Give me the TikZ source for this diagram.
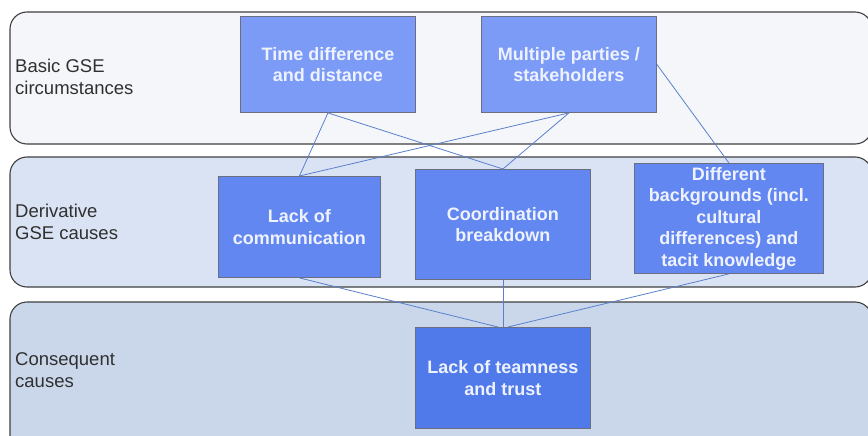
\documentclass[tikz,border=0pt]{standalone}
\usepackage{fontspec}
\setmainfont{Liberation Sans}
\begin{document}
\begin{tikzpicture}[x=1pt,y=-1pt,
  band/.style={draw=black!75,line width=1.1pt,rounded corners=17pt},
  cbox/.style={draw=boxline,line width=0.9pt,text=boxtext,font=\fontsize{18}{21.5}\selectfont\bfseries,align=center,inner sep=0pt,anchor=north west},
  lbl/.style={text=labeltext,font=\fontsize{18.5}{22}\selectfont,align=left,anchor=west,inner sep=0pt},
  link/.style={draw=linkblue,line width=0.8pt}]
\definecolor{bandA}{HTML}{F5F6FA}
\definecolor{bandB}{HTML}{DAE3F3}
\definecolor{bandC}{HTML}{CAD7EB}
\definecolor{boxA}{HTML}{7C9BF7}
\definecolor{boxB}{HTML}{6387F0}
\definecolor{boxC}{HTML}{5079E9}
\definecolor{boxline}{HTML}{6A6E80}
\definecolor{boxtext}{HTML}{EEF2FF}
\definecolor{labeltext}{HTML}{303030}
\definecolor{linkblue}{HTML}{5A80CC}
\useasboundingbox (0,0) rectangle (868,436);
\clip (0,0) rectangle (868,436);
\fill[white] (0,0) rectangle (868,436);
% bands
\path[band,fill=bandA] (10,12) rectangle (872,144);
\path[band,fill=bandB] (10,157) rectangle (872,287);
\path[band,fill=bandC] (10,302) rectangle (872,460);
% labels
\node[lbl] (l1) at (15,77) {Basic GSE\\circumstances};
\node[lbl] (l2) at (15,222) {Derivative\\GSE causes};
\node[lbl] (l3) at (15,370) {Consequent\\causes};
% boxes
\node[cbox,fill=boxA,minimum width=175pt,minimum height=96pt] (td) at (240,16) {Time difference\\and distance};
\node[cbox,fill=boxA,minimum width=175pt,minimum height=96pt] (mp) at (481,16) {Multiple parties /\\stakeholders};
\node[cbox,fill=boxB,minimum width=162pt,minimum height=101pt] (lc) at (218,176) {Lack of\\communication};
\node[cbox,fill=boxB,minimum width=175pt,minimum height=110pt] (cb) at (415,169) {Coordination\\breakdown};
\node[cbox,fill=boxB,minimum width=189pt,minimum height=110pt] (db) at (634,163) {Different\\backgrounds (incl.\\cultural\\differences) and\\tacit knowledge};
\node[cbox,fill=boxC,minimum width=175pt,minimum height=101pt] (lt) at (415,327) {Lack of teamness\\and trust};
% links
\draw[link] (td.south) -- (lc.north);
\draw[link] (td.south) -- (cb.north);
\draw[link] (mp.south) -- (lc.north);
\draw[link] (mp.south) -- (cb.north);
\draw[link] (mp.east) -- (db.north);
\draw[link] (lc.south) -- ([xshift=-5pt]lt.north);
\draw[link] (cb.south) -- (lt.north);
\draw[link] (db.south) -- ([xshift=5pt]lt.north);
\end{tikzpicture}
\end{document}
